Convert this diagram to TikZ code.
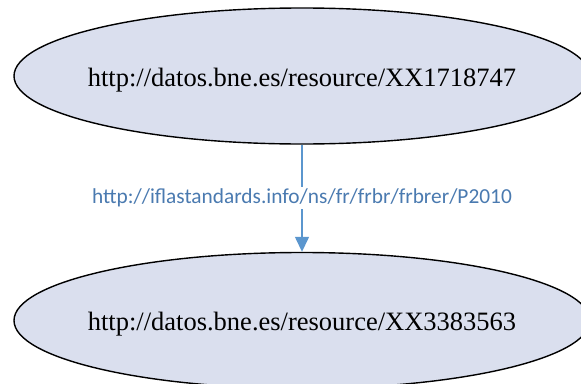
\documentclass[tikz,border=0pt]{standalone}
\usepackage{fontspec}
\setmainfont{Liberation Serif}
\newfontfamily\labelfont{Carlito}
\usetikzlibrary{arrows.meta,shapes.geometric}
\definecolor{nodefill}{RGB}{218,223,238}
\definecolor{edgeblue}{RGB}{91,150,206}
\definecolor{labelblue}{RGB}{74,122,176}
% Ellipse size is fixed; the text is centred in a zero-width box so that
% the shape does not grow around it.
\newcommand{\restext}[1]{\makebox[0pt]{#1}}
\begin{document}
\begin{tikzpicture}[x=1pt,y=-1pt,
  resource/.style={ellipse,draw=black,line width=1.4pt,fill=nodefill,
    minimum width=576pt,minimum height=136pt,inner sep=0pt,
    text height=20.2pt,text depth=0pt,
    font=\fontsize{26.5}{30}\selectfont},
  relation/.style={draw=edgeblue,line width=1.4pt,
    -{Triangle[length=15pt,width=14pt]}},
  rellabel/.style={fill=white,inner sep=2pt,text=labelblue,
    font=\labelfont\fontsize{21.35}{25}\selectfont}
]
\useasboundingbox (0,0) rectangle (581,383);
\node[resource] (s) at (302,76) {\restext{http://datos.bne.es/resource/XX1718747}};
\node[resource] (o) at (302,320.5) {\restext{http://datos.bne.es/resource/XX3383563}};
\draw[relation] (s) -- node[rellabel] {http://iflastandards.info/ns/fr/frbr/frbrer/P2010} (o);
\end{tikzpicture}
\end{document}
